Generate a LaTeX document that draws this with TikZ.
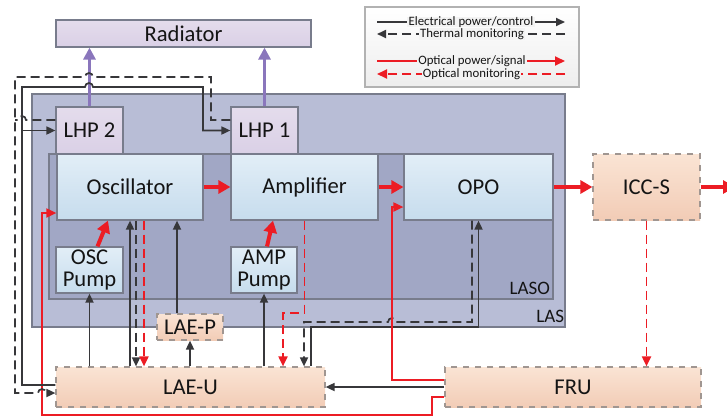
\documentclass[tikz,border=0pt]{standalone}
\usepackage{fontspec}
\setmainfont{Carlito}
\usetikzlibrary{arrows.meta}
\definecolor{lasfill}{RGB}{184,189,214}
\definecolor{lasofill}{RGB}{161,167,197}
\definecolor{frameline}{RGB}{120,124,140}
\definecolor{bluetop}{RGB}{226,238,247}
\definecolor{bluebot}{RGB}{198,220,237}
\definecolor{lilac}{RGB}{228,220,236}
\definecolor{lilacbot}{RGB}{218,208,230}
\definecolor{peachtop}{RGB}{250,228,212}
\definecolor{peachbot}{RGB}{242,204,182}
\definecolor{peachline}{RGB}{160,150,145}
\definecolor{legfill}{RGB}{243,243,243}
\definecolor{wire}{RGB}{55,55,58}
\definecolor{laser}{RGB}{236,28,36}
\definecolor{heat}{RGB}{138,118,188}
\definecolor{ink}{RGB}{20,20,20}
\tikzset{
  every picture/.style={line width=0.6pt},
  unit/.style={draw=frameline, top color=bluetop, bottom color=bluebot, text=ink,
    font=\fontsize{11.3}{12}\selectfont, align=center, inner sep=0pt},
  pipe/.style={unit, top color=lilac, bottom color=lilacbot},
  ebox/.style={draw=peachline, dashed, top color=peachtop, bottom color=peachbot, text=ink,
    font=\fontsize{11.3}{12}\selectfont, inner sep=0pt},
  shell/.style={draw=frameline, fill=#1, inner sep=0pt},
  tag/.style={font=\fontsize{9.5}{10}\selectfont, text=ink, inner sep=1pt},
  elec/.style={draw=wire, line width=0.85pt, -{Triangle[length=4.5pt,width=4pt]}},
  therm/.style={elec, dash pattern=on 4.5pt off 2.5pt},
  optic/.style={draw=laser, line width=0.95pt, -{Triangle[length=5pt,width=4.5pt]}},
  optmon/.style={optic, dash pattern=on 4.5pt off 2.5pt},
  beam/.style={draw=laser, line width=2pt, -{Triangle[length=6pt,width=6.5pt]}},
  heatpipe/.style={draw=heat, line width=1.6pt, -{Triangle[length=6pt,width=6pt]}},
  legtext/.style={fill=legfill, inner xsep=0.6pt, inner ysep=0pt, text=ink,
    font=\fontsize{6.4}{7}\selectfont}
}
\begin{document}
\begin{tikzpicture}[x=0.5pt,y=-0.5pt]
\useasboundingbox (0,0) rectangle (727,418);
% housings
\node[shell=lasfill, minimum width=266.5pt, minimum height=116.5pt] (las) at (298.5,210.5) {};
\node[shell=lasofill, minimum width=252pt, minimum height=72.5pt] (laso) at (301,226.5) {};
\node[tag, anchor=south east] at ([xshift=0.5pt,yshift=1pt]las.south east) {LAS};
\node[tag, anchor=south east] at ([xshift=-0.5pt,yshift=1pt]laso.south east) {LASO};
% blocks
\node[pipe, minimum width=127.5pt, minimum height=13.5pt] (rad) at (183.5,33.5) {Radiator};
\node[pipe, minimum width=33.5pt, minimum height=23.5pt] (lhp2) at (89.5,130.5) {LHP 2};
\node[pipe, minimum width=33.5pt, minimum height=23.5pt] (lhp1) at (264.5,130.5) {LHP 1};
\node[unit, minimum width=73pt, minimum height=33pt] (osc) at (130,187) {Oscillator};
\node[unit, minimum width=73.5pt, minimum height=33pt] (amp) at (304.5,187) {Amplifier};
\node[unit, minimum width=74.5pt, minimum height=33pt] (opo) at (478.5,187) {OPO};
\node[unit, minimum width=33.5pt, minimum height=23pt] (oscp) at (89.5,270) {OSC\\[-1pt]Pump};
\node[unit, minimum width=33pt, minimum height=23pt] (ampp) at (264,270) {AMP\\[-1pt]Pump};
\node[ebox, minimum width=53.5pt, minimum height=33pt] (iccs) at (646.5,187) {ICC-S};
\node[ebox, minimum width=33pt, minimum height=13pt] (laep) at (190,327) {LAE-P};
\node[ebox, minimum width=134.5pt, minimum height=20pt] (laeu) at (190.5,387) {LAE-U};
\node[ebox, minimum width=128pt, minimum height=20pt] (fru) at (573,387) {FRU};
% legend
\node[draw=black!30, top color=white, bottom color=black!7, minimum width=107pt, minimum height=40pt] (legend) at (472,47) {};
\coordinate (lg1a) at (377,22); \coordinate (lg1b) at (565,22);
\coordinate (lg2a) at (377,34); \coordinate (lg2b) at (565,34);
\coordinate (lg3a) at (377,61); \coordinate (lg3b) at (565,61);
\coordinate (lg4a) at (377,74); \coordinate (lg4b) at (565,74);
\draw[elec] (lg1a) -- (lg1b);
\draw[therm] (lg2b) -- (lg2a);
\draw[optic] (lg3a) -- (lg3b);
\draw[optmon] (lg4b) -- (lg4a);
\node[legtext] (lgt1) at (471,22) {Electrical power/control};
\node[legtext] (lgt2) at (472,34) {Thermal monitoring};
\node[legtext] (lgt3) at (472,61) {Optical power/signal};
\node[legtext] (lgt4) at (471.5,74) {Optical monitoring};
% heat pipes to the radiator
\draw[heatpipe] (lhp2.north) -- (lhp2.north |- rad.south);
\draw[heatpipe] (lhp1.north) -- (lhp1.north |- rad.south);
% optical chain
\coordinate (out) at (735,187);
\draw[beam] (osc.east) -- (amp.west);
\draw[beam] (amp.east) -- (opo.west);
\draw[beam] (opo.east) -- (iccs.west);
\draw[beam] (iccs.east) -- (out);
\draw[beam] ([xshift=4pt]oscp.north) -- ([xshift=-11pt]osc.south);
\draw[beam] ([xshift=1.5pt]ampp.north) -- ([xshift=-15.75pt]amp.south);
% LAE-U links
\draw[elec] (oscp.south |- laeu.north) -- (oscp.south);
\draw[elec] (osc.south |- laeu.north) -- (osc.south);
\draw[therm] ([xshift=3pt]osc.south) -- ([xshift=3pt]osc.south |- laeu.north);
\draw[optmon] ([xshift=7pt]osc.south) -- ([xshift=7pt]osc.south |- laeu.north);
\draw[elec] (laep.south |- laeu.north) -- (laep.south);
\draw[elec] ([xshift=-6.5pt]laep.north) -- ([xshift=-6.5pt]laep.north |- osc.south);
\draw[elec] (ampp.south |- laeu.north) -- (ampp.south);
\coordinate (am1) at (283,313);
\draw[optmon] (amp.south) |- (am1) -- (am1 |- laeu.north);
\coordinate (tb1) at (304,322);
\draw[therm] ([xshift=-3.25pt]opo.south) |- (396,322)
  arc[start angle=0, end angle=180, radius=2pt] -- (tb1) -- (tb1 |- laeu.north);
\coordinate (eb1) at (311,327);
\draw[elec] (eb1 |- laeu.north) -- (eb1) -| (opo.south);
% FRU links
\coordinate (ro1) at (392,207);
\draw[optic] ([yshift=3.5pt]fru.west) -| (ro1) -- (ro1 -| opo.west);
\draw[elec] (fru.west) -- (laeu.east);
\coordinate (rf1) at (432,415);
\coordinate (rf2) at (42,213);
\draw[optic] ([yshift=-5pt]fru.west) -| (rf1) -- (rf1 -| rf2) -- (rf2) -- (rf2 -| osc.west);
\draw[optmon] (iccs.south) -- (iccs.south |- fru.north);
% loop heat pipe control and monitoring
\coordinate (el1) at (22,87);
\draw[elec] ([yshift=1pt]laeu.west) -| (el1) -- (85,87)
  arc[start angle=180, end angle=0, radius=2pt] -- (203,87) |- (lhp1.west);
\draw[elec] (el1 |- lhp2.west) -- (lhp2.west);
\draw[therm] ([yshift=5.25pt]lhp1.west) -| (211,77) -- (93,77)
  arc[start angle=0, end angle=180, radius=2pt] -- (15,77) -- (15,393) -- (38,393)
  arc[start angle=180, end angle=0, radius=2pt] -- ([yshift=-3pt]laeu.west);
\draw[therm, -] ([yshift=5.25pt]lhp2.west) -- (26,120)
  arc[start angle=0, end angle=180, radius=2pt] -- (15,120);
\end{tikzpicture}
\end{document}
